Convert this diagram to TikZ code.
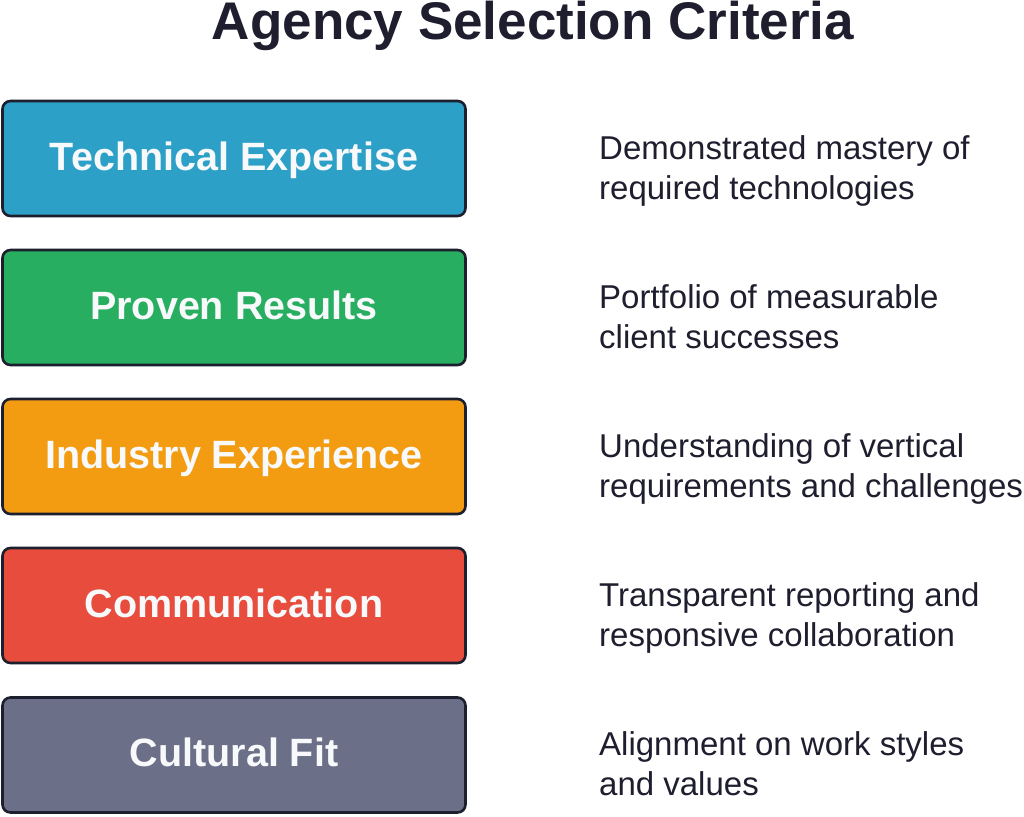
\documentclass[tikz,border=0pt]{standalone}
\usepackage{fontspec}
\setmainfont{Liberation Sans}
\definecolor{ink}{HTML}{1E1E2E}
\definecolor{edge}{HTML}{1C1F2E}
\definecolor{cblue}{HTML}{2DA0C8}
\definecolor{cgreen}{HTML}{27AE60}
\definecolor{corange}{HTML}{F39C12}
\definecolor{cred}{HTML}{E74C3C}
\definecolor{cgray}{HTML}{6C6F88}
\definecolor{boxtext}{HTML}{F7F9FA}
\tikzset{
  crit/.style={draw=edge, line width=2.6pt, rounded corners=8pt,
    minimum width=463pt, minimum height=115pt, inner sep=0pt,
    text=boxtext, font=\fontsize{39.5}{46}\selectfont\bfseries,
    text height=28.5pt, text depth=5pt},
  desc/.style={anchor=base west, align=left, text=ink, inner sep=0pt,
    font=\fontsize{33}{40}\selectfont},
  title/.style={anchor=base, text=ink, inner sep=0pt,
    font=\fontsize{53}{62}\selectfont\bfseries}
}
\begin{document}
\begin{tikzpicture}[x=1pt,y=-1pt]
\useasboundingbox[fill=white] (0,0) rectangle (1024,816);
\node[title] (t) at (533,40) {Agency Selection Criteria};
\node[crit, fill=cblue]   (b1) at (234,158.5) {Technical Expertise};
\node[crit, fill=cgreen]  (b2) at (234,307.5) {Proven Results};
\node[crit, fill=corange] (b3) at (234,456.5) {Industry Experience};
\node[crit, fill=cred]    (b4) at (234,605.5) {Communication};
\node[crit, fill=cgray]   (b5) at (234,755)   {Cultural Fit};
\node[desc] (d1) at (599,199) {Demonstrated mastery of\\required technologies};
\node[desc] (d2) at (599,348) {Portfolio of measurable\\client successes};
\node[desc] (d3) at (599,497) {Understanding of vertical\\requirements and challenges};
\node[desc] (d4) at (599,646) {Transparent reporting and\\responsive collaboration};
\node[desc] (d5) at (599,795.5) {Alignment on work styles\\and values};
\end{tikzpicture}
\end{document}
